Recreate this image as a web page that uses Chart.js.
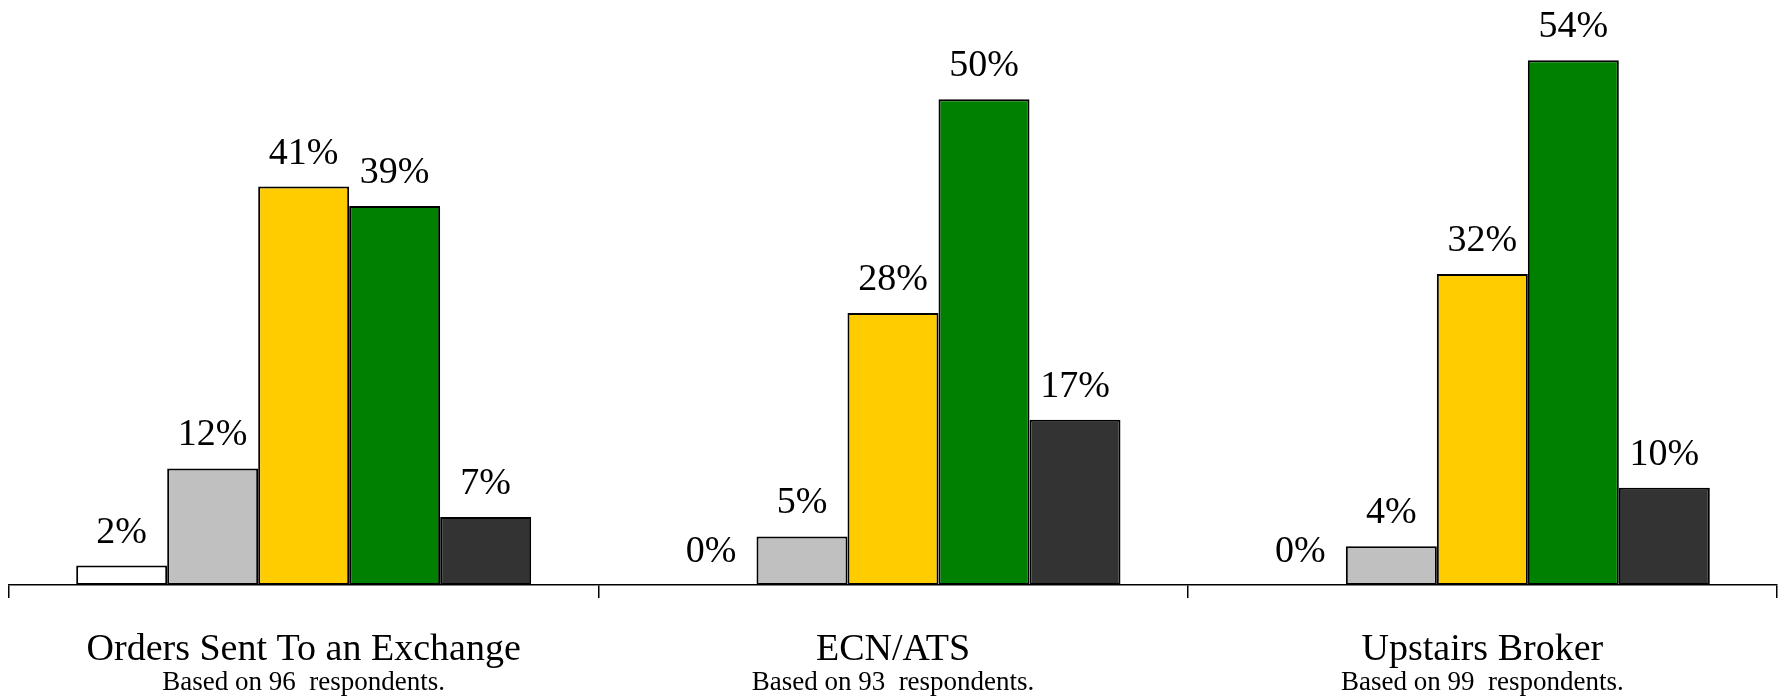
<!DOCTYPE html>
<html>
<head>
<meta charset="utf-8">
<script src="https://cdn.jsdelivr.net/npm/chart.js@4.4.1/dist/chart.umd.min.js"></script>
<style>
  html, body { margin: 0; padding: 0; background: #ffffff; }
  #wrap { width: 1782px; height: 697px; position: relative; }
</style>
</head>
<body>
<div id="wrap"><canvas id="chart"></canvas></div>
<script>
// categorias y subtitulos (encuestados)
const categorias = ['Orders Sent To an Exchange', 'ECN/ATS', 'Upstairs Broker'];
const encuestados = ['Based on 96  respondents.', 'Based on 93  respondents.', 'Based on 99  respondents.'];

// valores en % por serie
const serieBlanca = [2, 0, 0];
const serieGris = [12, 5, 4];
const serieAmarilla = [41, 28, 32];
const serieVerde = [39, 50, 54];
const serieOscura = [7, 17, 10];

const nombresSeries = ['Serie 1', 'Serie 2', 'Serie 3', 'Serie 4', 'Serie 5'];
const coloresSeries = ['#ffffff', '#c0c0c0', '#ffcc00', '#008000', '#333333'];

const FUENTE = '"Liberation Serif", "Times New Roman", serif';

const series = [serieBlanca, serieGris, serieAmarilla, serieVerde, serieOscura];

const datasets = series.map((valores, i) => ({
    label: nombresSeries[i],
    data: valores,
    backgroundColor: coloresSeries[i],
    borderColor: '#000000',
    borderWidth: (ctx) => (ctx.raw === 0 ? 0 : 2),
    borderSkipped: false,
    barPercentage: 1,
    categoryPercentage: 0.772
}));

// etiquetas de porcentaje encima de cada barra
const etiquetasBarras = {
    id: 'etiquetasBarras',
    afterDatasetsDraw(chart) {
        const ctx = chart.ctx;
        ctx.save();
        ctx.font = '38px ' + FUENTE;
        ctx.fillStyle = '#000000';
        ctx.textAlign = 'center';
        ctx.textBaseline = 'alphabetic';
        chart.data.datasets.forEach((ds, i) => {
            const meta = chart.getDatasetMeta(i);
            meta.data.forEach((bar, j) => {
                ctx.fillText(ds.data[j] + '%', bar.x, bar.y - 23);
            });
        });
        ctx.restore();
    }
};

// nombre de categoria y segunda linea bajo el eje
const rotulosEje = {
    id: 'rotulosEje',
    afterDraw(chart) {
        const ctx = chart.ctx;
        const x = chart.scales.x;
        const base = chart.chartArea.bottom;
        ctx.save();
        ctx.fillStyle = '#000000';
        ctx.textAlign = 'center';
        ctx.textBaseline = 'alphabetic';
        categorias.forEach((txt, i) => {
            const px = x.getPixelForValue(i);
            ctx.font = '38px ' + FUENTE;
            ctx.fillText(txt, px, base + 75);
            ctx.font = '27px ' + FUENTE;
            ctx.fillText(encuestados[i], px, base + 105);
        });
        ctx.restore();
    }
};

new Chart(document.getElementById('chart'), {
    type: 'bar',
    data: { labels: categorias, datasets: datasets },
    options: {
        responsive: true, maintainAspectRatio: false,
        animation: false,
        layout: { padding: { top: 2, left: 9, right: 5, bottom: 99 } },
        plugins: {
            legend: { display: false },
            tooltip: { enabled: false }
        },
        scales: {
            y: { display: false, min: 0, max: 60 },
            x: {
                border: { display: true, color: '#000000', width: 1.5 },
                grid: {
                    offset: true,
                    drawOnChartArea: false,
                    drawTicks: true,
                    tickLength: 13,
                    color: '#000000',
                    lineWidth: 1.5
                },
                ticks: { display: false }
            }
        }
    },
    plugins: [etiquetasBarras, rotulosEje]
});
</script>
</body>
</html>
